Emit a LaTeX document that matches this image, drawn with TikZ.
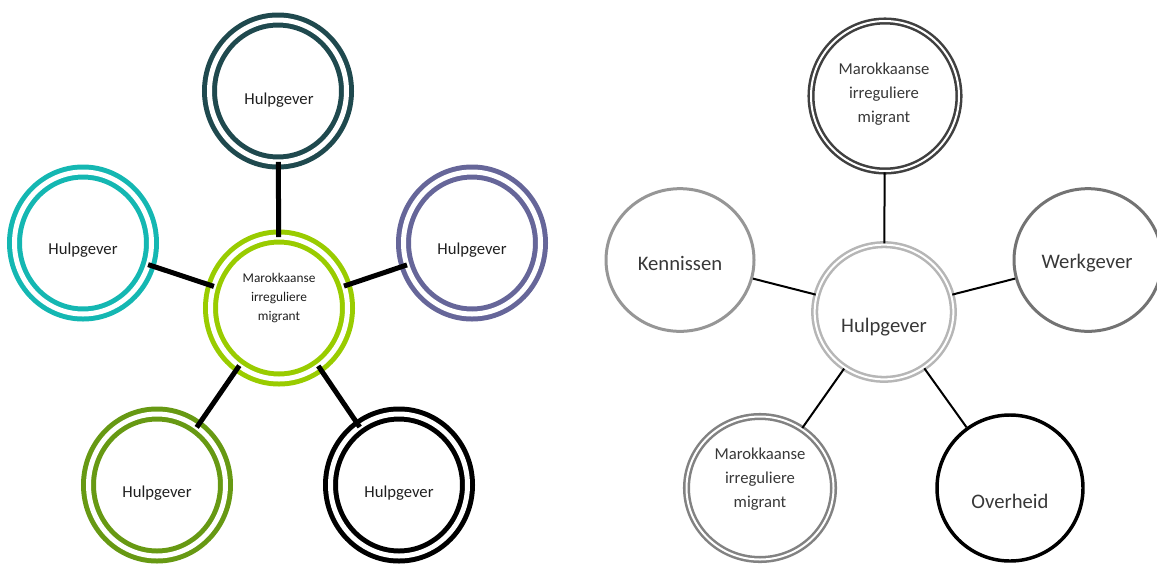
\documentclass[tikz,border=0pt]{standalone}
\usepackage{fontspec}
\setmainfont{Carlito}
\usetikzlibrary{shapes.geometric}
\definecolor{petrol}{RGB}{31,73,78}
\definecolor{turq}{RGB}{20,183,178}
\definecolor{paars}{RGB}{102,102,153}
\definecolor{limoen}{RGB}{153,204,0}
\definecolor{olijf}{RGB}{103,153,19}
\definecolor{donker}{RGB}{64,64,64}
\definecolor{licht}{RGB}{182,182,182}
\definecolor{grijs}{RGB}{150,150,150}
\definecolor{middel}{RGB}{115,115,115}
\definecolor{rand}{RGB}{130,130,130}
\begin{document}
\begin{tikzpicture}[x=0.75pt, y=-0.75pt,
    ring/.style={ellipse, draw=#1, inner sep=0pt},
    fat/.style={double, line width=3.75pt, double distance=3.75pt, minimum width=102.75pt, minimum height=106.5pt},
    dun/.style={double, line width=1.9pt, double distance=1.5pt},
    enkel/.style={line width=#1},
    maat/.style 2 args={minimum width=#1, minimum height=#2},
    lien/.style={line width=3.75pt, shorten <=-2pt, shorten >=-2pt},
    fil/.style={line width=1.5pt},
    tekst/.style={text=black!88, font=\fontsize{12.5}{15}\selectfont, align=center},
    klein/.style={text=black!88, font=\fontsize{10}{14}\selectfont, align=center},
    grtekst/.style={text=black!78, font=\fontsize{15.5}{18}\selectfont, align=center},
    grklein/.style={text=black!78, font=\fontsize{12.5}{18}\selectfont, align=center}]
    \useasboundingbox (0,0) rectangle (1157,565);
    % links
    \node[ring=limoen, fat] (mid) at (279,308) {}; %midden
    \node[ring=petrol, fat] (boven) at (278,91) {};
    \node[ring=turq, fat] (links) at (83,243) {};
    \node[ring=paars, fat] (rechts) at (472,243) {};
    \node[ring=olijf, fat] (lo) at (157,485) {};
    \node[ring=black, fat] (ro) at (399,485) {};
    \draw[lien] (mid)--(boven);
    \draw[lien] (mid)--(links);
    \draw[lien] (mid)--(rechts);
    \draw[lien] (mid)--(lo);
    \draw[lien] (mid)--(ro);
    \node[klein] (tmid) at (279,298) {Marokkaanse\\irreguliere\\migrant};
    \node[tekst] (tboven) at (279,100) {Hulpgever};
    \node[tekst] (tlinks) at (83,250) {Hulpgever};
    \node[tekst] (trechts) at (472,250) {Hulpgever};
    \node[tekst] (tlo) at (157,493) {Hulpgever};
    \node[tekst] (tro) at (399,493) {Hulpgever};
    % rechts
    \node[ring=licht, dun, maat={104pt}{101pt}] (hulp) at (884,312) {}; %midden
    \node[ring=donker, dun, maat={111pt}{112.5pt}] (mig) at (885,96) {};
    \node[ring=grijs, enkel=2.25pt, maat={111pt}{107pt}] (ken) at (680,260) {};
    \node[ring=middel, enkel=2.25pt, maat={111pt}{107pt}] (werk) at (1088,260) {};
    \node[ring=rand, dun, maat={110.25pt}{107.25pt}] (mig2) at (760,488) {};
    \node[ring=black, enkel=2.6pt, maat={109.5pt}{109.5pt}] (over) at (1010,488) {};
    \draw[fil] (hulp)--(mig);
    \draw[fil] (hulp)--(ken);
    \draw[fil] (hulp)--(werk);
    \draw[fil] (hulp)--(mig2);
    \draw[fil] (hulp)--(over);
    \node[grtekst] (thulp) at (884,327) {Hulpgever};
    \node[grklein] (tmig) at (884,94) {Marokkaanse\\irreguliere\\migrant};
    \node[grtekst] (tken) at (680,263) {Kennissen};
    \node[grtekst] (twerk) at (1087,263) {Werkgever};
    \node[grklein] (tmig2) at (760,479) {Marokkaanse\\irreguliere\\migrant};
    \node[grtekst] (tover) at (1010,501) {Overheid};
\end{tikzpicture}
\end{document}
